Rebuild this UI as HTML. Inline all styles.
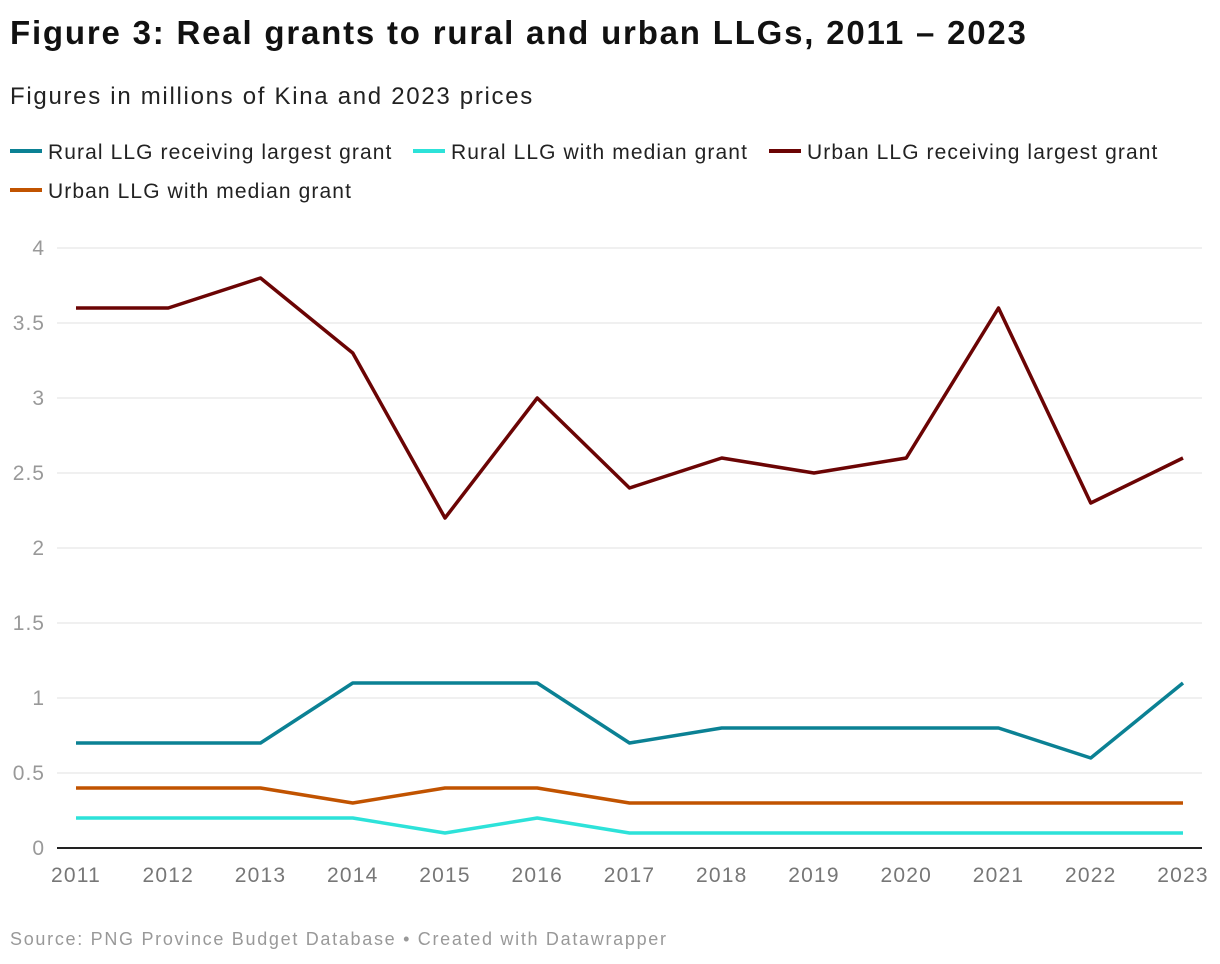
<!DOCTYPE html>
<html><head><meta charset="utf-8"><style>
body{margin:0;background:#fff;font-family:"Liberation Sans",sans-serif;}
.wrap{position:relative;width:1220px;height:964px;overflow:hidden}
h1{position:absolute;left:10px;top:14px;margin:0;font-size:33px;font-weight:bold;color:#111;letter-spacing:1.8px}
.sub{position:absolute;left:10px;top:83px;font-size:24px;color:#222;letter-spacing:1.7px}
.leg{position:absolute;font-size:21px;color:#222;white-space:nowrap;letter-spacing:1.1px}
.leg span.sw{display:inline-block;width:32px;height:4px;vertical-align:middle;margin-right:6px;position:relative;top:-2px}
.src{position:absolute;left:10px;top:929px;font-size:18px;color:#999;letter-spacing:1.7px}
</style></head><body><div class="wrap">
<h1>Figure 3: Real grants to rural and urban LLGs, 2011 – 2023</h1>
<div class="sub">Figures in millions of Kina and 2023 prices</div>
<div class="leg" style="left:10px;top:141px"><span class="sw" style="background:#0b8194"></span>Rural LLG receiving largest grant</div>
<div class="leg" style="left:413px;top:141px"><span class="sw" style="background:#2de2d9"></span>Rural LLG with median grant</div>
<div class="leg" style="left:769px;top:141px"><span class="sw" style="background:#6b0404"></span>Urban LLG receiving largest grant</div>
<div class="leg" style="left:10px;top:180px"><span class="sw" style="background:#c15300"></span>Urban LLG with median grant</div>
<svg id="svg" width="1220" height="964" style="position:absolute;left:0;top:0"></svg>
<div class="src">Source: PNG Province Budget Database • Created with Datawrapper</div>
</div>
<script>
const years=[2011,2012,2013,2014,2015,2016,2017,2018,2019,2020,2021,2022,2023];
const yTicks=[0,0.5,1,1.5,2,2.5,3,3.5,4];
const urbanLargest=[3.6,3.6,3.8,3.3,2.2,3.0,2.4,2.6,2.5,2.6,3.6,2.3,2.6];
const ruralLargest=[0.7,0.7,0.7,1.1,1.1,1.1,0.7,0.8,0.8,0.8,0.8,0.6,1.1];
const urbanMedian=[0.4,0.4,0.4,0.3,0.4,0.4,0.3,0.3,0.3,0.3,0.3,0.3,0.3];
const ruralMedian=[0.2,0.2,0.2,0.2,0.1,0.2,0.1,0.1,0.1,0.1,0.1,0.1,0.1];
const NS="http://www.w3.org/2000/svg",svg=document.getElementById('svg');
const x=i=>76+i*(1183-76)/(years.length-1);
const y=v=>848-v*150;
function mk(t,a){const e=document.createElementNS(NS,t);for(const k in a)e.setAttribute(k,a[k]);svg.appendChild(e);return e;}
yTicks.forEach(v=>{
 const l=mk('line',{x1:57,x2:1202,y1:y(v),y2:y(v),stroke:v===0?'#222':'#e0e0e0','stroke-width':v===0?2:1});
 
 
 const t=mk('text',{x:45,y:y(v)+7,'text-anchor':'end','font-size':21,fill:'#999','font-family':'Liberation Sans, sans-serif','letter-spacing':1});
 t.textContent=String(v);
 
 
});
years.forEach((yr,i)=>{
 const t=mk('text',{x:x(i),y:882,'text-anchor':'middle','font-size':21,fill:'#777','font-family':'Liberation Sans, sans-serif','letter-spacing':1.2});
 t.textContent=String(yr);
 
 
});
[[ruralMedian,'#2de2d9','line-rural-median'],[urbanMedian,'#c15300','line-urban-median'],[ruralLargest,'#0b8194','line-rural-largest'],[urbanLargest,'#6b0404','line-urban-largest']].forEach(([d,c,n])=>{
 const p=mk('polyline',{points:d.map((v,i)=>x(i)+','+y(v)).join(' '),fill:'none',stroke:c,'stroke-width':3.5,'stroke-linejoin':'round'});
 
 
});
</script></body></html>
